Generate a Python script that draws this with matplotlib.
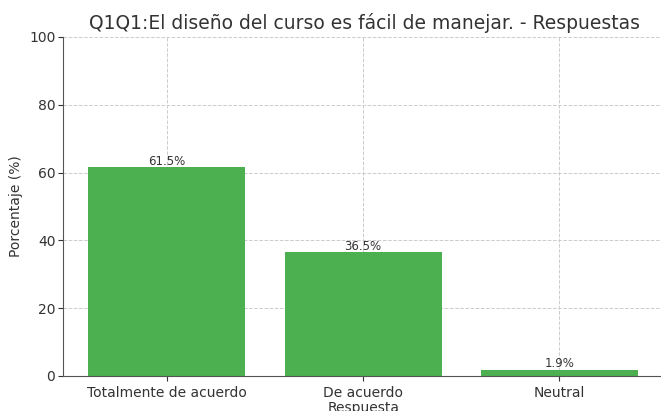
import matplotlib
matplotlib.use("Agg")
import matplotlib.pyplot as plt

categories = ["Totalmente de acuerdo", "De acuerdo", "Neutral"]
percentages = [61.5, 36.5, 1.9]

fig = plt.figure(figsize=(6.61, 4.11), dpi=100)
ax = fig.add_axes([0.0953, 0.0852, 0.911, 0.825])

bars = ax.bar(categories, percentages, color="#4CAF50", width=0.8, zorder=2)
for b, v in zip(bars, percentages):
    ax.text(b.get_x() + b.get_width() / 2, v - 0.2, f"{v}%", ha="center", va="bottom",
            fontsize=8.5, color="#333333")

ax.set_ylim(0, 100)
ax.set_xlim(-0.53, 2.54)
ax.set_title("Q1Q1:El diseño del curso es fácil de manejar. - Respuestas", fontsize=13.5,
             color="#333333", pad=6)
ax.set_xlabel("Respuesta", fontsize=10, color="#333333", labelpad=1)
ax.set_ylabel("Porcentaje (%)", fontsize=10, color="#333333")
ax.grid(True, linestyle="--", color="#cccccc", linewidth=0.7, zorder=0)
ax.set_axisbelow(True)
for s in ["top", "right"]:
    ax.spines[s].set_visible(False)
for s in ["left", "bottom"]:
    ax.spines[s].set_color("#555555")
ax.tick_params(colors="#333333", labelsize=10)
ax.tick_params(axis="y", pad=2)

fig.savefig("out.png", dpi=100)
